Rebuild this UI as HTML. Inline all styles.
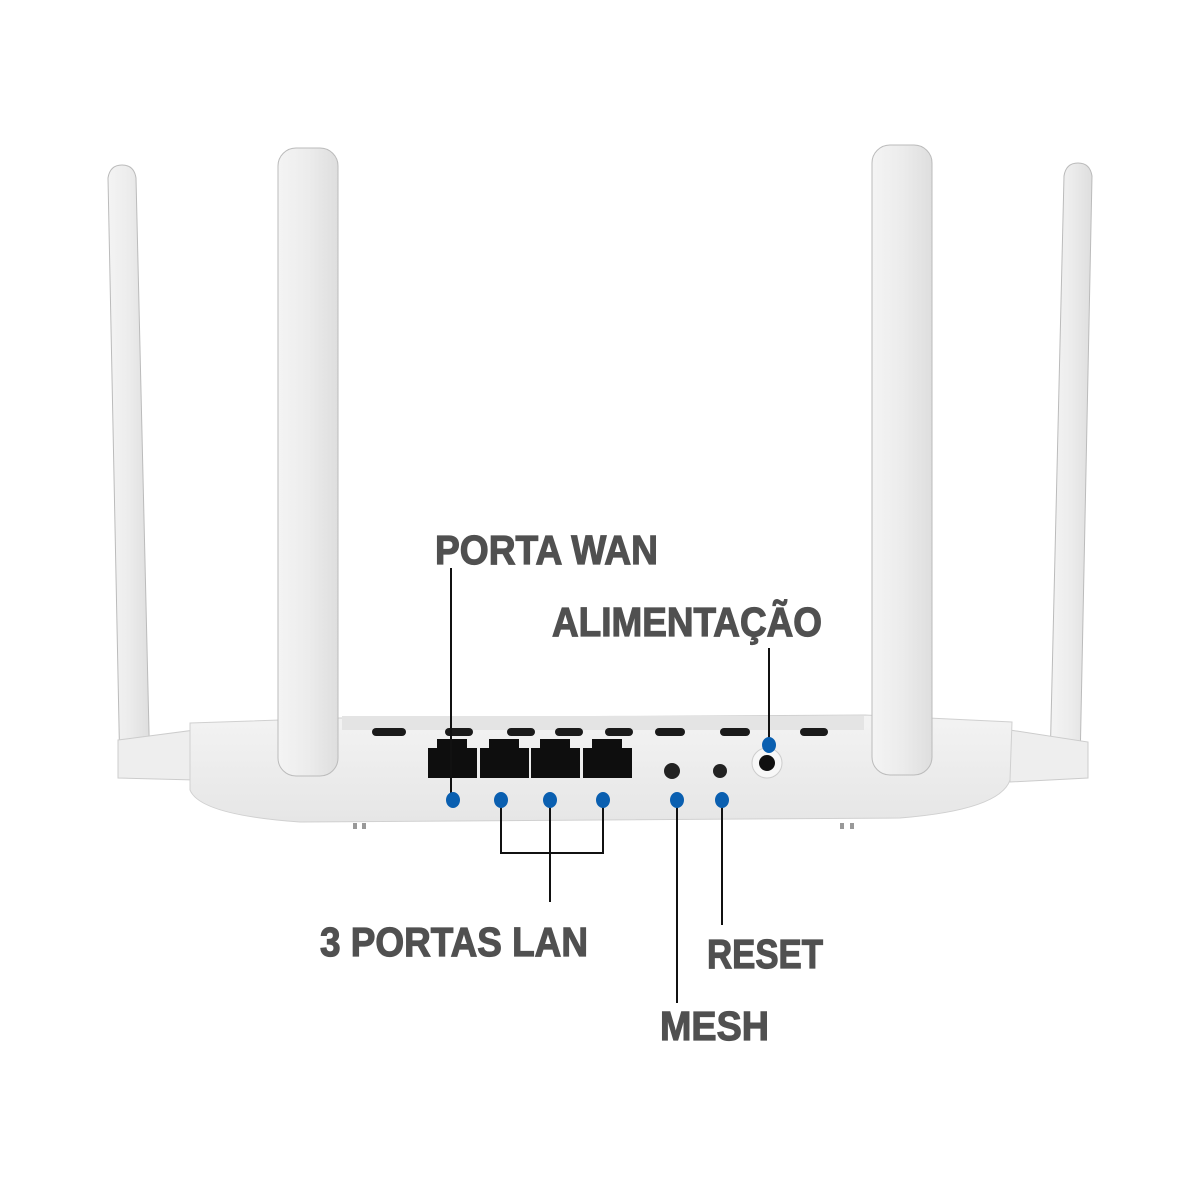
<!DOCTYPE html>
<html><head><meta charset="utf-8"><style>html,body{margin:0;padding:0;background:#fff}svg{display:block}</style></head>
<body>
<svg width="1200" height="1200" viewBox="0 0 1200 1200" xmlns="http://www.w3.org/2000/svg">
<defs>
<linearGradient id="ant" x1="0" x2="1"><stop offset="0" stop-color="#f4f4f4"/><stop offset="0.5" stop-color="#ececec"/><stop offset="1" stop-color="#dedede"/></linearGradient>
<linearGradient id="body" x1="0" y1="0" x2="0" y2="1"><stop offset="0" stop-color="#f3f3f3"/><stop offset="1" stop-color="#e6e6e6"/></linearGradient>
</defs>
<path d="M108 178 Q110 165 122 165 Q134 165 136 178 L150 775 L120 775 Z" fill="url(#ant)" stroke="#bbb" stroke-width="1"/>
<path d="M1064 176 Q1066 163 1078 163 Q1090 163 1092 176 L1080 765 L1050 765 Z" fill="url(#ant)" stroke="#bbb" stroke-width="1"/>
<path d="M118 740 L195 730 L195 780 L118 778 Z" fill="#eee" stroke="#ccc"/>
<path d="M1010 730 L1088 742 L1088 778 L1010 782 Z" fill="#eee" stroke="#ccc"/>
<path d="M190 723 L340 718 L865 715 L1012 722 L1010 780 Q1000 810 900 818 L300 822 Q200 815 190 790 Z" fill="url(#body)" stroke="#d0d0d0"/>
<rect x="342" y="716" width="522" height="14" fill="#e4e4e4"/>
<g fill="#1a1a1a">
<rect x="372" y="728" width="34" height="8" rx="4"/>
<rect x="445" y="728" width="28" height="8" rx="4"/>
<rect x="507" y="728" width="28" height="8" rx="4"/>
<rect x="555" y="728" width="28" height="8" rx="4"/>
<rect x="605" y="728" width="28" height="8" rx="4"/>
<rect x="655" y="728" width="30" height="8" rx="4"/>
<rect x="720" y="728" width="30" height="8" rx="4"/>
<rect x="800" y="728" width="28" height="8" rx="4"/>
</g>
<g fill="#0e0e0e">
<path d="M428 748 h9 v-9 h30 v9 h10 v30 h-49 Z"/>
<path d="M480 748 h9 v-9 h30 v9 h10 v30 h-49 Z"/>
<path d="M531 748 h9 v-9 h30 v9 h10 v30 h-49 Z"/>
<path d="M583 748 h9 v-9 h30 v9 h10 v30 h-49 Z"/>
</g>
<circle cx="672" cy="771" r="8" fill="#222"/>
<circle cx="720" cy="771" r="7" fill="#222"/>
<circle cx="767" cy="763" r="15" fill="#f7f7f7" stroke="#ccc"/>
<circle cx="767" cy="763" r="8" fill="#111"/>
<rect x="278" y="148" width="60" height="628" rx="18" fill="url(#ant)" stroke="#bbb"/>
<rect x="872" y="145" width="60" height="630" rx="18" fill="url(#ant)" stroke="#bbb"/>
<g fill="#999"><rect x="353" y="823" width="4" height="6"/><rect x="362" y="823" width="4" height="6"/><rect x="840" y="823" width="4" height="6"/><rect x="850" y="823" width="4" height="6"/></g>
<g stroke="#111" stroke-width="2" fill="none">
<line x1="451" y1="568" x2="451" y2="800"/>
<line x1="769" y1="648" x2="769" y2="745"/>
<polyline points="501,800 501,853 603,853 603,800"/>
<line x1="550" y1="800" x2="550" y2="902"/>
<line x1="677" y1="800" x2="677" y2="1003"/>
<line x1="722" y1="800" x2="722" y2="925"/>
</g>
<g fill="#0a5fb0">
<ellipse cx="453" cy="800" rx="7" ry="8"/>
<ellipse cx="501" cy="800" rx="7" ry="8"/>
<ellipse cx="550" cy="800" rx="7" ry="8"/>
<ellipse cx="603" cy="800" rx="7" ry="8"/>
<ellipse cx="677" cy="800" rx="7" ry="8"/>
<ellipse cx="722" cy="800" rx="7" ry="8"/>
<ellipse cx="769" cy="745" rx="7" ry="8"/>
</g>
<g font-family="Liberation Sans, sans-serif" font-weight="bold" font-size="41" fill="#505050" stroke="#505050" stroke-width="1.2">
<text x="435" y="564" textLength="223" lengthAdjust="spacingAndGlyphs">PORTA WAN</text>
<text x="552" y="636" textLength="270" lengthAdjust="spacingAndGlyphs">ALIMENTAÇÃO</text>
<text x="320" y="956" textLength="268" lengthAdjust="spacingAndGlyphs">3 PORTAS LAN</text>
<text x="707" y="968" textLength="116" lengthAdjust="spacingAndGlyphs">RESET</text>
<text x="660" y="1040" textLength="109" lengthAdjust="spacingAndGlyphs">MESH</text>
</g>
</svg>
</body></html>
